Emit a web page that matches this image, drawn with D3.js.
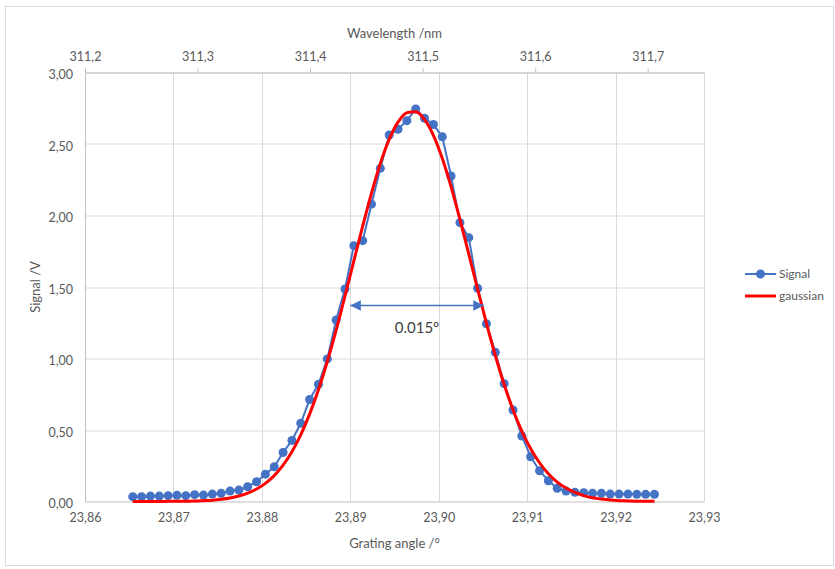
<!DOCTYPE html>
<html lang="en">
<head>
<meta charset="utf-8">
<title>Signal vs grating angle</title>
<script src="https://cdn.jsdelivr.net/npm/d3@7/dist/d3.min.js"></script>
<style>
  body { margin: 0; background: #fff; }
  text { font-family: Lato, "Open Sans", sans-serif; fill: #595959; }
</style>
</head>
<body>
<script>

var width = 835;
var height = 569;

// grating angle of each measured point (deg)
var angles = [
  23.8654, 23.8664, 23.8674, 23.8684, 23.8694, 23.8704, 23.8714, 23.8724, 23.8734, 23.8744,
  23.8754, 23.8764, 23.8774, 23.8784, 23.8794, 23.8804, 23.8814, 23.8824, 23.8834, 23.8844,
  23.8854, 23.8864, 23.8874, 23.8884, 23.8894, 23.8904, 23.8914, 23.8924, 23.8934, 23.8944,
  23.8954, 23.8964, 23.8974, 23.8984, 23.8994, 23.9004, 23.9014, 23.9024, 23.9034, 23.9044,
  23.9054, 23.9064, 23.9074, 23.9084, 23.9094, 23.9104, 23.9114, 23.9124, 23.9134, 23.9144,
  23.9154, 23.9164, 23.9174, 23.9184, 23.9194, 23.9204, 23.9214, 23.9224, 23.9234, 23.9244
];

// measured signal (V)
var signal = [
  0.034, 0.034, 0.038, 0.038, 0.041, 0.043, 0.041, 0.048, 0.045, 0.052,
  0.057, 0.073, 0.080, 0.103, 0.138, 0.191, 0.243, 0.343, 0.427, 0.547,
  0.713, 0.820, 0.997, 1.269, 1.486, 1.789, 1.824, 2.080, 2.330, 2.563,
  2.603, 2.663, 2.745, 2.680, 2.636, 2.551, 2.276, 1.950, 1.845, 1.491,
  1.243, 1.043, 0.824, 0.640, 0.458, 0.313, 0.215, 0.145, 0.092, 0.073,
  0.064, 0.062, 0.057, 0.057, 0.052, 0.052, 0.052, 0.050, 0.050, 0.050
];

// fitted gaussian (V)
var gaussian = [
  0.000, 0.000, 0.000, 0.000, 0.001, 0.001, 0.002, 0.003, 0.006, 0.009,
  0.015, 0.024, 0.038, 0.058, 0.087, 0.127, 0.181, 0.254, 0.348, 0.466,
  0.611, 0.781, 0.978, 1.198, 1.437, 1.682, 1.925, 2.157, 2.364, 2.532,
  2.653, 2.719, 2.725, 2.671, 2.561, 2.400, 2.200, 1.973, 1.730, 1.485,
  1.245, 1.021, 0.818, 0.642, 0.492, 0.369, 0.271, 0.194, 0.136, 0.094,
  0.063, 0.041, 0.026, 0.017, 0.010, 0.006, 0.004, 0.002, 0.001, 0.001
];

var angleTicks = [23.86, 23.87, 23.88, 23.89, 23.90, 23.91, 23.92, 23.93];
var wavelengthTicks = [311.2, 311.3, 311.4, 311.5, 311.6, 311.7];
var signalTicks = [0, 0.5, 1, 1.5, 2, 2.5, 3];

// full width at half maximum marked on the chart
var fwhmFrom = 23.8900;
var fwhmTo = 23.9051;
var fwhmLevel = 1.37;
var fwhmLabel = "0.015°";

var fmt = function(d, n) { return d.toFixed(n).replace(".", ","); };

var margin = {left: 85, right: 131, top: 72.5, bottom: 67.5};
var plotW = width - margin.left - margin.right;
var plotH = height - margin.top - margin.bottom;

var x = d3.scaleLinear().domain([23.86, 23.93]).range([0, plotW]);
var xTop = d3.scaleLinear().domain([311.2, 311.75]).range([0, plotW]);
var y = d3.scaleLinear().domain([0, 3]).range([plotH, 0]);

var svg = d3.select("body").append("svg")
            .attr("width", width)
            .attr("height", height);

// chart area border
svg.append("rect")
   .attr("x", 5.5).attr("y", 6.5)
   .attr("width", 828).attr("height", 559)
   .attr("fill", "none")
   .attr("stroke", "#d9d9d9");

var g = svg.append("g")
           .attr("transform", "translate(" + margin.left + "," + margin.top + ")");

// grid lines
g.selectAll("line.hgrid")
 .data(signalTicks.slice(1))
 .enter().append("line")
 .attr("class", "hgrid")
 .attr("x1", 0).attr("x2", plotW)
 .attr("y1", function(d) { return Math.round(y(d)) + 0.5; })
 .attr("y2", function(d) { return Math.round(y(d)) + 0.5; })
 .attr("stroke", "#d9d9d9");

g.selectAll("line.vgrid")
 .data(angleTicks.slice(1))
 .enter().append("line")
 .attr("class", "vgrid")
 .attr("y1", 0).attr("y2", plotH)
 .attr("x1", function(d) { return Math.round(x(d)) + 0.5; })
 .attr("x2", function(d) { return Math.round(x(d)) + 0.5; })
 .attr("stroke", "#d9d9d9");

// bottom axis
var xAxis = g.append("g")
             .attr("transform", "translate(0," + plotH + ")")
             .call(d3.axisBottom(x).tickValues(angleTicks)
                     .tickFormat(function(d) { return fmt(d, 2); })
                     .tickSize(0).tickPadding(12));
xAxis.select(".domain").attr("stroke", "#bfbfbf");
xAxis.selectAll("text").attr("font-size", 12.5).attr("fill", "#595959");

// left axis
var yAxis = g.append("g")
             .call(d3.axisLeft(y).tickValues(signalTicks)
                     .tickFormat(function(d) { return fmt(d, 2); })
                     .tickSize(0).tickPadding(12));
yAxis.select(".domain").attr("stroke", "#bfbfbf");
yAxis.selectAll("text").attr("font-size", 12.5).attr("fill", "#595959").attr("dy", "0.5em");

// top axis (wavelength)
var topAxis = g.append("g")
               .call(d3.axisTop(xTop).tickValues(wavelengthTicks)
                       .tickFormat(function(d) { return fmt(d, 1); })
                       .tickSizeInner(4).tickSizeOuter(0).tickPadding(8));
topAxis.select(".domain").attr("stroke", "#bfbfbf");
topAxis.selectAll(".tick line").attr("stroke", "#bfbfbf");
topAxis.selectAll("text").attr("font-size", 12.5).attr("fill", "#595959");

// axis titles
svg.append("text")
   .attr("x", margin.left + plotW / 2).attr("y", 548)
   .attr("text-anchor", "middle").attr("font-size", 13)
   .text("Grating angle /°");

svg.append("text")
   .attr("x", margin.left + plotW / 2).attr("y", 38)
   .attr("text-anchor", "middle").attr("font-size", 13)
   .text("Wavelength /nm");

svg.append("text")
   .attr("transform", "translate(40," + (margin.top + plotH / 2) + ") rotate(-90)")
   .attr("text-anchor", "middle").attr("font-size", 13)
   .text("Signal /V");

// series
var signalData = angles.map(function(a, i) { return {x: a, y: signal[i]}; });
var gaussData = angles.map(function(a, i) { return {x: a, y: gaussian[i]}; });

var line = d3.line()
             .x(function(d) { return x(d.x); })
             .y(function(d) { return y(d.y); });

g.append("path")
 .datum(signalData)
 .attr("d", line)
 .attr("fill", "none")
 .attr("stroke", "#4472c4")
 .attr("stroke-width", 2);

g.selectAll("circle.pt")
 .data(signalData)
 .enter().append("circle")
 .attr("class", "pt")
 .attr("cx", function(d) { return x(d.x); })
 .attr("cy", function(d) { return y(d.y); })
 .attr("r", 4.5)
 .attr("fill", "#4472c4");

g.append("path")
 .datum(gaussData)
 .attr("d", line.curve(d3.curveMonotoneX))
 .attr("fill", "none")
 .attr("stroke", "#ff0000")
 .attr("stroke-width", 3);

// FWHM arrow
var defs = svg.append("defs");
defs.append("marker")
    .attr("id", "arrow")
    .attr("viewBox", "0 0 10 10")
    .attr("refX", 10).attr("refY", 5)
    .attr("markerWidth", 7).attr("markerHeight", 7)
    .attr("markerUnits", "strokeWidth")
    .attr("orient", "auto-start-reverse")
    .append("path")
    .attr("d", "M0,0 L10,5 L0,10 z")
    .attr("fill", "#4472c4");

g.append("line")
 .attr("x1", x(fwhmFrom)).attr("x2", x(fwhmTo))
 .attr("y1", y(fwhmLevel)).attr("y2", y(fwhmLevel))
 .attr("stroke", "#4472c4")
 .attr("stroke-width", 1.5)
 .attr("marker-start", "url(#arrow)")
 .attr("marker-end", "url(#arrow)");

g.append("text")
 .attr("x", x((fwhmFrom + fwhmTo) / 2)).attr("y", y(fwhmLevel) + 27)
 .attr("text-anchor", "middle")
 .attr("font-size", 15)
 .style("fill", "#404040")
 .text(fwhmLabel);

// legend
var legend = svg.append("g").attr("transform", "translate(745,0)");
legend.append("line")
      .attr("x1", 0).attr("x2", 31).attr("y1", 274).attr("y2", 274)
      .attr("stroke", "#4472c4").attr("stroke-width", 2);
legend.append("circle")
      .attr("cx", 15.5).attr("cy", 274).attr("r", 4.5).attr("fill", "#4472c4");
legend.append("text")
      .attr("x", 34).attr("y", 278).attr("font-size", 12).text("Signal");
legend.append("line")
      .attr("x1", 0).attr("x2", 31).attr("y1", 296).attr("y2", 296)
      .attr("stroke", "#ff0000").attr("stroke-width", 3);
legend.append("text")
      .attr("x", 34).attr("y", 300).attr("font-size", 12).text("gaussian");

</script>
</body>
</html>
